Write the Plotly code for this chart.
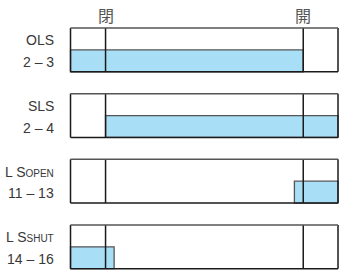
import plotly.graph_objects as go

# ---- data ----
signal_names = ["OLS", "SLS",
                "L S<span style='font-size:10px'>OPEN</span>",
                "L S<span style='font-size:10px'>SHUT</span>"]
pin_labels = ["2 – 3", "2 – 4", "11 – 13", "14 – 16"]
on_start = [0.0, 13.1, 83.7, 0.0]
on_end = [87.0, 100.0, 100.0, 16.3]
event_labels = ["閉", "開"]
event_x = [13.1, 87.0]

X_END = 100.0
PITCH = 1.5      # row pitch (box height = 1)
FILL = "#a9def7"
INK = "#1a1a1a"
TXT = "#383838"

fig = go.Figure()
shapes = []
annotations = []

for i, name in enumerate(signal_names):
    top = i * PITCH
    bot = top + 1
    mid = top + 0.5
    shapes.append(dict(type="rect", xref="x", yref="y", x0=0, x1=X_END, y0=top, y1=bot,
                       fillcolor="white", line=dict(width=0), layer="above"))
    shapes.append(dict(type="rect", xref="x", yref="y", x0=on_start[i], x1=on_end[i],
                       y0=mid, y1=bot, fillcolor=FILL,
                       line=dict(color="#555", width=1.3), layer="above"))
    for ex in event_x:
        shapes.append(dict(type="line", xref="x", yref="y", x0=ex, x1=ex, y0=top, y1=bot,
                           line=dict(color=INK, width=1.5), layer="above"))
    shapes.append(dict(type="line", xref="x", yref="y", x0=0, x1=0, y0=top, y1=bot,
                       line=dict(color=INK, width=1.5), layer="above"))
    shapes.append(dict(type="line", xref="x", yref="y", x0=X_END, x1=X_END, y0=top, y1=bot,
                       line=dict(color=INK, width=1.5), layer="above"))
    shapes.append(dict(type="line", xref="x", yref="y", x0=0, x1=X_END, y0=bot, y1=bot,
                       line=dict(color=INK, width=1.5), layer="above"))
    shapes.append(dict(type="line", xref="x", yref="y", x0=0, x1=X_END, y0=top, y1=top,
                       line=dict(color="#555", width=1.5), layer="above"))
    annotations.append(dict(x=-5.3, y=top + 0.28, xref="x", yref="y", text=name,
                            showarrow=False, xanchor="right", yanchor="middle",
                            font=dict(family="Liberation Sans, Arial", size=14, color=TXT)))
    annotations.append(dict(x=-5.3, y=top + 0.78, xref="x", yref="y", text=pin_labels[i],
                            showarrow=False, xanchor="right", yanchor="middle",
                            font=dict(family="Liberation Sans, Arial", size=14, color=TXT)))

for lab, ex in zip(event_labels, event_x):
    annotations.append(dict(x=ex, y=-0.3, xref="x", yref="y", text=lab, showarrow=False,
                            xanchor="center", yanchor="middle",
                            font=dict(family="Noto Sans CJK JP", size=16, color="#555")))

fig.update_layout(
    width=339, height=270,
    margin=dict(l=0, r=0, t=0, b=0),
    paper_bgcolor="white", plot_bgcolor="white",
    shapes=shapes, annotations=annotations,
    showlegend=False,
    xaxis=dict(range=[-26.36, 100.37], visible=False, fixedrange=True),
    yaxis=dict(range=[5.53, -0.64], visible=False, fixedrange=True),
)

fig.write_html("out.html", config={"displayModeBar": False},
               post_script="document.body.style.margin='0';")
